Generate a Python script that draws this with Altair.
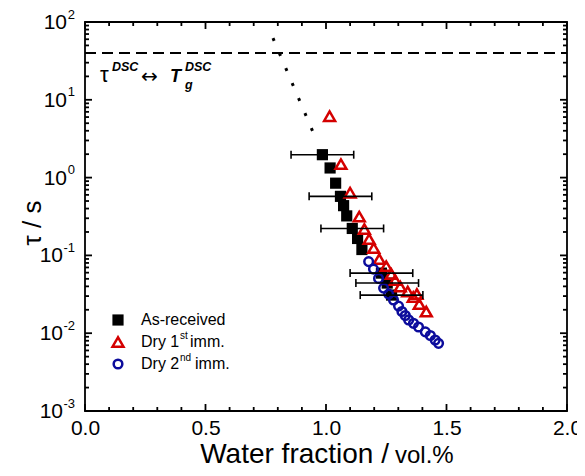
import altair as alt
import pandas as pd

# ---------------- data ----------------
sq_x = [0.985, 1.017, 1.040, 1.060, 1.073, 1.086, 1.109, 1.131, 1.149, 1.230, 1.254, 1.272]
sq_y = [1.97, 1.33, 0.848, 0.574, 0.436, 0.322, 0.222, 0.165, 0.119, 0.0592, 0.0441, 0.0309]
sq_err = [0.13, 0, 0, 0.13, 0, 0, 0.13, 0, 0, 0.13, 0.13, 0.13]

tri_x = [1.015, 1.062, 1.100, 1.138, 1.159, 1.179, 1.198, 1.221, 1.250, 1.271,
         1.287, 1.308, 1.339, 1.362, 1.377, 1.387, 1.416]
tri_y = [6.15, 1.49, 0.640, 0.315, 0.218, 0.162, 0.124, 0.0896, 0.0728, 0.0575,
         0.0482, 0.0397, 0.0343, 0.0291, 0.0318, 0.0237, 0.0190]

circ_x = [1.177, 1.197, 1.218, 1.239, 1.260, 1.280, 1.301, 1.315, 1.329, 1.343,
          1.363, 1.384, 1.412, 1.433, 1.453, 1.467]
circ_y = [0.0832, 0.0667, 0.0506, 0.0380, 0.0318, 0.0267, 0.0223, 0.0190, 0.0169, 0.0148,
          0.0134, 0.0120, 0.0104, 0.00933, 0.00817, 0.00740]

fit_x = [0.78, 0.965]
fit_y = [62.0, 2.8]

dsc_x = [0.0, 2.0]
dsc_tau = [40.0, 40.0]

x_major = [0.0, 0.5, 1.0, 1.5, 2.0]
x_minor = [0.1, 0.2, 0.3, 0.4, 0.6, 0.7, 0.8, 0.9, 1.1, 1.2, 1.3, 1.4, 1.6, 1.7, 1.8, 1.9]
y_major = [0.001, 0.01, 0.1, 1.0, 10.0, 100.0]
y_exp = ["-3", "-2", "-1", "0", "1", "2"]
y_minor = [k * 10.0 ** e for e in range(-3, 2) for k in range(2, 10)]

legend_labels = ["As-received", "Dry 1", "st", "imm.", "Dry 2", "nd", "imm."]
x_title = ["Water fraction /", "vol.%"]
y_title = "τ / s"

# ---------------- styling ----------------
W, H = 482, 389
FONT = "Liberation Sans"
RED = "#d40000"
BLUE = "#0c0c9c"
MAJ, MIN, TW = 7, 4, 1.8

xs = alt.Scale(domain=[0, 2], nice=False, zero=False)
ys = alt.Scale(type="log", domain=[0.001, 100], nice=False)

x_label_axis = alt.Axis(orient="bottom", values=x_major, format=".1f", labelFont=FONT,
                        labelFontSize=21, labelColor="black", labelPadding=6,
                        ticks=False, domain=False, grid=False, title=None,
                        labelFlush=False, labelOverlap=False, labelBound=False)

one = pd.DataFrame({"a": [0]})


def txt(t, x, y, size, align="left", baseline="alphabetic", style="normal",
        weight="normal", angle=0, font=FONT):
    return alt.Chart(one).mark_text(
        text=t, fontSize=size, font=font, align=align, baseline=baseline,
        fontStyle=style, fontWeight=weight, angle=angle, color="black"
    ).encode(x=alt.value(x), y=alt.value(y))


def pt(x, y, **kw):
    return alt.Chart(one).mark_point(opacity=1, **kw).encode(x=alt.value(x), y=alt.value(y))


# --- inward tick marks on all four sides ---
def xticks(values, length, top):
    return alt.Chart(pd.DataFrame({"tx": values})).mark_rule(
        color="black", strokeWidth=TW
    ).encode(
        x=alt.X("tx:Q", scale=xs, axis=None),
        y=alt.value(0 if top else H),
        y2=alt.value(length if top else H - length),
    )


def yticks(values, length, right):
    return alt.Chart(pd.DataFrame({"ty": values})).mark_rule(
        color="black", strokeWidth=TW
    ).encode(
        y=alt.Y("ty:Q", scale=ys, axis=None),
        x=alt.value(W if right else 0),
        x2=alt.value(W - length if right else length),
    )


ticks = [
    xticks(x_major, MAJ, False), xticks(x_minor, MIN, False),
    xticks(x_major, MAJ, True), xticks(x_minor, MIN, True),
    yticks(y_major, MAJ, False), yticks(y_minor, MIN, False),
    yticks(y_major, MAJ, True), yticks(y_minor, MIN, True),
]

# dashed DSC line (carries the labelled x axis)
dash = alt.Chart(pd.DataFrame({"x": dsc_x, "y": dsc_tau})).mark_line(
    color="black", strokeWidth=2, strokeDash=[11, 6]
).encode(
    x=alt.X("x:Q", scale=xs, axis=x_label_axis),
    y=alt.Y("y:Q", scale=ys, axis=None),
)

dot = alt.Chart(pd.DataFrame({"x": fit_x, "y": fit_y})).mark_line(
    color="black", strokeWidth=3, strokeDash=[3, 13.3]
).encode(
    x=alt.X("x:Q", scale=xs, axis=None),
    y=alt.Y("y:Q", scale=ys, axis=None),
)

sq_df = pd.DataFrame({"x": sq_x, "y": sq_y, "e": sq_err})
sq = alt.Chart(sq_df).mark_point(shape="square", filled=True, color="black",
                                 size=125, opacity=1).encode(
    x=alt.X("x:Q", scale=xs, axis=None),
    y=alt.Y("y:Q", scale=ys, axis=None),
)

tri = alt.Chart(pd.DataFrame({"x": tri_x, "y": tri_y})).mark_point(
    shape="triangle-up", filled=False, color=RED, strokeWidth=2.5, size=120, opacity=1
).encode(
    x=alt.X("x:Q", scale=xs, axis=None),
    y=alt.Y("y:Q", scale=ys, axis=None),
)

circ = alt.Chart(pd.DataFrame({"x": circ_x, "y": circ_y})).mark_point(
    shape="circle", filled=False, color=BLUE, strokeWidth=2.5, size=75, opacity=1
).encode(
    x=alt.X("x:Q", scale=xs, axis=None),
    y=alt.Y("y:Q", scale=ys, axis=None),
)

eb_base = alt.Chart(sq_df).transform_filter("datum.e > 0").transform_calculate(
    lo="datum.x - datum.e", hi="datum.x + datum.e"
)
eb_rule = eb_base.mark_rule(color="black", strokeWidth=1.6).encode(
    x=alt.X("lo:Q", scale=xs, axis=None),
    x2="hi:Q",
    y=alt.Y("y:Q", scale=ys, axis=None),
)
eb_caps = eb_base.transform_fold(["lo", "hi"], as_=["k", "xc"]).mark_tick(
    color="black", thickness=1.6, size=8, orient="vertical", opacity=1
).encode(
    x=alt.X("xc:Q", scale=xs, axis=None),
    y=alt.Y("y:Q", scale=ys, axis=None),
)

# y tick labels: "10" + superscript exponent
ylab_df = pd.DataFrame({"v": y_major, "e": y_exp})
ylab_base = alt.Chart(ylab_df)
ylab_exp = ylab_base.mark_text(font=FONT, fontSize=13, align="right", baseline="middle",
                               dy=-7.5, color="black").encode(
    x=alt.value(-10), y=alt.Y("v:Q", scale=ys, axis=None), text="e:N")
ylab_10a = ylab_base.transform_filter("datum.v >= 1").mark_text(
    font=FONT, fontSize=21, align="right", baseline="middle", dy=1, color="black"
).encode(x=alt.value(-18), y=alt.Y("v:Q", scale=ys, axis=None), text=alt.value("10"))
ylab_10b = ylab_base.transform_filter("datum.v < 1").mark_text(
    font=FONT, fontSize=21, align="right", baseline="middle", dy=1, color="black"
).encode(x=alt.value(-22), y=alt.Y("v:Q", scale=ys, axis=None), text=alt.value("10"))

# annotation  tau^DSC <-> T_g^DSC
ann = [
    txt("τ", 15, 60, 22),
    txt("DSC", 27, 49, 12.5, style="italic", weight="bold"),
    txt("↔", 56, 55, 20, baseline="middle", font="DejaVu Sans"),
    txt("T", 85, 60, 18, style="italic", weight="bold"),
    txt("DSC", 100, 49, 12.5, style="italic", weight="bold"),
    txt("g", 100, 67, 12.5, style="italic", weight="bold"),
]

# legend
leg = [
    pt(33, 298, shape="square", filled=True, color="black", size=125),
    pt(33, 320, shape="triangle-up", filled=False, color=RED, strokeWidth=2.5, size=120),
    pt(33, 342, shape="circle", filled=False, color=BLUE, strokeWidth=2.5, size=75),
    txt(legend_labels[0], 56, 298, 16, baseline="middle"),
    txt(legend_labels[1], 56, 320, 16, baseline="middle"),
    txt(legend_labels[2], 95, 314, 10, baseline="middle"),
    txt(legend_labels[3], 105, 320, 16, baseline="middle"),
    txt(legend_labels[4], 56, 342, 16, baseline="middle"),
    txt(legend_labels[5], 95, 336, 10, baseline="middle"),
    txt(legend_labels[6], 110, 342, 16, baseline="middle"),
]

titles = [
    txt(x_title[0], 304, 441, 28, align="right"),
    txt(x_title[1], 310, 441, 24, align="left"),
    txt(y_title, -52, 201, 26, align="center", baseline="middle", angle=270),
]

chart = alt.layer(
    dash, dot, sq, tri, circ, eb_rule, eb_caps, *ticks, ylab_exp, ylab_10a, ylab_10b,
    *ann, *leg, *titles
).resolve_axis(x="independent", y="independent").properties(
    width=W, height=H,
    autosize=alt.AutoSizeParams(type="none"),
    padding={"left": 77, "top": 14, "right": 10, "bottom": 57},
    background="white",
).configure_view(stroke="black", strokeWidth=1.8)

chart.save("out.html", embed_options={"renderer": "svg", "actions": False})
